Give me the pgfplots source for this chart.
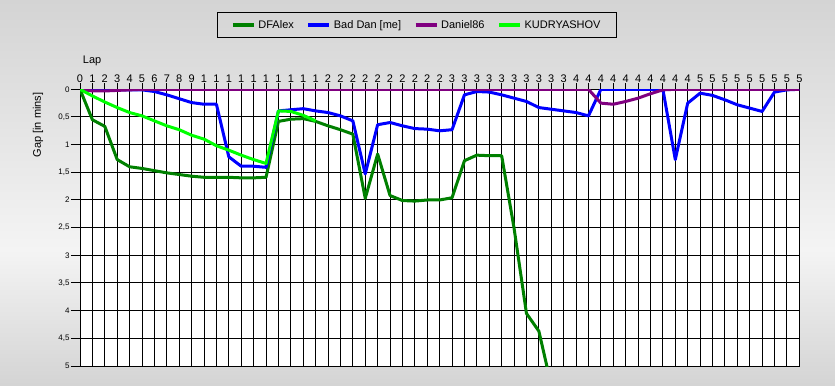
\documentclass[border=0pt]{standalone}
\usepackage{fontspec}
\setmainfont{Liberation Sans}
\usepackage{pgfplots}
\pgfplotsset{compat=1.18}
\usepackage{pgfplotstable}

\definecolor{dfalex}{RGB}{0,128,0}
\definecolor{baddan}{RGB}{0,0,255}
\definecolor{daniel}{RGB}{128,0,128}
\definecolor{kud}{RGB}{0,255,0}
\definecolor{bgtop}{RGB}{212,212,212}
\definecolor{bgmid}{RGB}{244,244,244}

\pgfplotstableread{
lap gap
0 0
1 0.55
2 0.67
3 1.27
4 1.40
5 1.43
6 1.47
7 1.51
8 1.54
9 1.57
10 1.59
11 1.59
12 1.59
13 1.60
14 1.60
15 1.59
16 0.58
17 0.54
18 0.53
19 0.58
20 0.66
21 0.73
22 0.81
23 1.97
24 1.17
25 1.92
26 2.01
27 2.02
28 2.00
29 2.00
30 1.96
31 1.29
32 1.19
33 1.20
34 1.20
35 2.51
36 4.05
37 4.37
38 5.35
}\dfalex

\pgfplotstableread{
lap gap
0 0
1 0.02
2 0.01
3 0.01
4 0.01
5 0.01
6 0.04
7 0.10
8 0.17
9 0.24
10 0.27
11 0.27
12 1.22
13 1.39
14 1.39
15 1.41
16 0.39
17 0.37
18 0.35
19 0.39
20 0.42
21 0.48
22 0.57
23 1.53
24 0.64
25 0.60
26 0.66
27 0.71
28 0.72
29 0.75
30 0.73
31 0.10
32 0.04
33 0.05
34 0.10
35 0.16
36 0.22
37 0.33
38 0.36
39 0.39
40 0.42
41 0.48
42 0
43 0
44 0
45 0
46 0
47 0
48 1.27
49 0.25
50 0.07
51 0.11
52 0.19
53 0.28
54 0.34
55 0.40
56 0.05
57 0.01
58 0
}\baddan

\pgfplotstableread{
lap gap
0 0
1 0.03
2 0.03
3 0.02
4 0.01
5 0
10 0
20 0
30 0
40 0
41 0
42 0.25
43 0.27
44 0.22
45 0.16
46 0.08
47 0.01
48 0
58 0
}\daniel

\pgfplotstableread{
lap gap
0 0
1 0.12
2 0.23
3 0.33
4 0.42
5 0.48
6 0.57
7 0.66
8 0.73
9 0.83
10 0.90
11 1.02
12 1.10
13 1.19
14 1.27
15 1.34
16 0.39
17 0.40
18 0.47
19 0.57
}\kud

\begin{document}
\begin{tikzpicture}[x=1bp,y=1bp]
\useasboundingbox (0,0) rectangle (835,385);
\shade[top color=bgtop, bottom color=bgmid] (0,135) rectangle (835,385);
\shade[top color=bgmid, bottom color=bgtop] (0,0) rectangle (835,135.2);
\begin{axis}[
  at={(80bp,19bp)}, anchor=south west,
  scale only axis, width=719.3bp, height=276.7bp,
  xmin=0, xmax=58, ymin=0, ymax=5,
  y dir=reverse,
  axis background/.style={fill=white},
  axis line style={black, line width=1bp},
  grid=major,
  grid style={black, line width=1bp},
  xtick={0,...,58},
  xticklabels={0,1,2,3,4,5,6,7,8,9,1,1,1,1,1,1,1,1,1,1,2,2,2,2,2,2,2,2,2,2,3,3,3,3,3,3,3,3,3,3,4,4,4,4,4,4,4,4,4,4,5,5,5,5,5,5,5,5,5},
  ytick={0,0.5,...,5},
  yticklabels={0,{0,5},1,{1,5},2,{2,5},3,{3,5},4,{4,5},5},
  xtick pos=upper, ytick pos=left,
  xticklabel pos=upper,
  tick align=outside,
  xtick style={black, line width=1bp, /pgfplots/major tick length=6bp},
  ytick style={black, line width=1bp, /pgfplots/major tick length=9bp},
  xticklabel style={font=\fontsize{11bp}{13bp}\selectfont, inner sep=0pt, anchor=south, yshift=2bp},
  yticklabel style={font=\fontsize{8bp}{10bp}\selectfont, inner sep=0pt, anchor=east, xshift=-6bp},
  xlabel={Lap},
  xlabel style={at={(rel axis cs:0.0038,1.094)}, anchor=base west, inner sep=0pt, font=\fontsize{11bp}{13bp}\selectfont},
  ylabel={Gap [in mins]},
  ylabel style={at={(rel axis cs:-0.0584,0.871)}, anchor=center, inner sep=0pt, font=\fontsize{11bp}{13bp}\selectfont},
  legend columns=4,
  legend style={
    at={(rel axis cs:0.4685,1.2324)}, anchor=center,
    draw=black, line width=1bp, fill=none,
    font=\fontsize{11bp}{13bp}\selectfont,
    inner xsep=13.5bp, inner ysep=6bp,
    nodes={inner xsep=2.5bp, inner ysep=2bp, anchor=west},
    /tikz/every even column/.append style={column sep=10bp},
  },
  legend image code/.code={\draw[#1, line width=4bp, line cap=butt] (0bp,0bp) -- (21bp,0bp);},
  every axis plot/.append style={line width=3bp, line join=round},
]
\addplot[dfalex] table[x=lap,y=gap] {\dfalex};
\addlegendentry{DFAlex}
\addplot[baddan] table[x=lap,y=gap] {\baddan};
\addlegendentry{Bad Dan [me]}
\addplot[daniel] table[x=lap,y=gap] {\daniel};
\addlegendentry{Daniel86}
\addplot[kud] table[x=lap,y=gap] {\kud};
\addlegendentry{KUDRYASHOV}
\end{axis}
\end{tikzpicture}
\end{document}
